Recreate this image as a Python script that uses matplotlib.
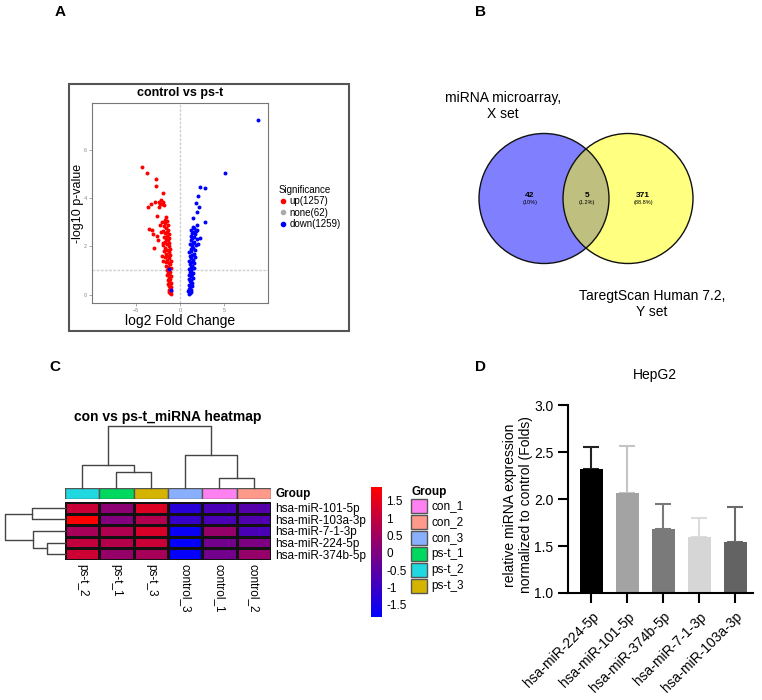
import numpy as np
import matplotlib
matplotlib.use("Agg")
import matplotlib.pyplot as plt
from matplotlib.patches import Circle, Rectangle
from matplotlib.colors import LinearSegmentedColormap, Normalize
from matplotlib.cm import ScalarMappable
from matplotlib.lines import Line2D

plt.rcParams['font.family'] = ['Liberation Sans', 'DejaVu Sans']

# ---------------- data ----------------
# A: volcano plot, log2 fold change vs -log10 p
up_fc = [-1.0, -1.1, -1.2, -1.05, -1.3, -1.15, -1.0, -1.25, -1.1, -1.35, -1.0,
         -1.2, -1.4, -1.1, -1.3, -1.0, -1.45, -1.2, -1.35, -1.1, -1.5,
         -1.25, -1.0, -1.4, -1.55, -1.15, -1.3, -1.6, -1.05, -1.45, -1.2,
         -1.7, -1.35, -1.1, -1.55, -1.25, -1.8, -1.45, -1.15, -1.65, -1.3,
         -1.9, -1.5, -1.2, -1.75, -1.4, -1.6, -1.25, -1.85, -1.5, -1.3,
         -1.7, -1.45, -1.9, -1.35, -1.6, -1.8, -1.4, -1.65, -1.5, -1.75, -1.55,
         -4.3, -3.7, -2.75, -2.68, -1.98, -2.84, -3.33, -3.62, -2.35, -2.15,
         -1.95, -2.25, -2.0, -2.35, -1.85, -2.58, -3.48, -3.22, -3.03, -2.65,
         -2.46, -2.95, -1.97, -2.08, -1.89, -2.2, -2.1, -2.3]
up_p = [0.02, 0.05, 0.1, 0.15, 0.2, 0.25, 0.3, 0.35, 0.4, 0.45, 0.5,
        0.55, 0.6, 0.65, 0.7, 0.75, 0.8, 0.85, 0.9, 0.95, 1.0,
        1.05, 1.1, 1.15, 1.2, 1.25, 1.3, 1.35, 1.4, 1.45, 1.5,
        1.55, 1.6, 1.65, 1.7, 1.75, 1.8, 1.85, 1.9, 1.95, 2.0,
        2.05, 2.1, 2.15, 2.2, 2.25, 2.3, 2.35, 2.4, 2.45, 2.5,
        2.55, 2.6, 2.65, 2.7, 2.75, 2.85, 2.9, 2.95, 3.05, 3.1, 3.2,
        5.28, 5.05, 4.78, 4.5, 4.2, 3.86, 3.76, 3.62, 3.86, 3.92,
        3.86, 3.75, 3.75, 3.63, 3.7, 3.24, 2.71, 2.7, 2.52, 2.44,
        2.27, 1.93, 2.16, 1.58, 1.38, 2.6, 3.0, 2.9]
down_fc = [1.0, 1.1, 1.2, 0.95, 1.3, 1.05, 1.15, 1.35, 1.0, 1.25, 1.4,
           1.1, 1.3, 1.0, 1.45, 1.2, 1.05, 1.35, 1.5, 1.15, 1.3,
           1.0, 1.55, 1.2, 1.4, 1.1, 1.6, 1.3, 1.05, 1.5, 1.25,
           1.7, 1.15, 1.4, 1.55, 1.05, 1.3, 1.75, 1.2, 1.5, 1.35,
           1.8, 1.1, 1.45, 1.6, 1.25, 1.9, 1.35, 1.55, 1.2, 1.7,
           1.4, 1.55, 1.3, 1.6, 1.45,
           8.83, 5.11, 2.27, 2.84, 2.08, 1.82, 2.2, 1.97, 1.52, 2.84,
           1.97, 1.82, 2.27, 2.0, 1.9, -1.21, -1.06]
down_p = [0.02, 0.05, 0.1, 0.15, 0.2, 0.25, 0.3, 0.35, 0.4, 0.45, 0.5,
          0.55, 0.6, 0.65, 0.7, 0.75, 0.8, 0.85, 0.9, 0.95, 1.0,
          1.05, 1.1, 1.15, 1.2, 1.25, 1.3, 1.35, 1.4, 1.45, 1.5,
          1.55, 1.6, 1.65, 1.7, 1.75, 1.8, 1.85, 1.9, 1.95, 2.0,
          2.05, 2.1, 2.15, 2.2, 2.25, 2.3, 2.35, 2.4, 2.45, 2.5,
          2.55, 2.6, 2.7, 2.75, 2.8,
          7.23, 5.03, 4.48, 4.41, 4.1, 3.81, 3.65, 3.44, 3.17, 3.03,
          2.89, 2.62, 2.34, 2.1, 2.7, 1.07, 0.21]
up_n, none_n, down_n = 1257, 62, 1259

# B: Venn counts
venn_x_only = 42
venn_both = 5
venn_y_only = 371

# C: heatmap (z-scores)
heat_rows = ['hsa-miR-101-5p', 'hsa-miR-103a-3p', 'hsa-miR-7-1-3p',
             'hsa-miR-224-5p', 'hsa-miR-374b-5p']
heat_cols = ['ps-t_2', 'ps-t_1', 'ps-t_3', 'control_3', 'control_1', 'control_2']
heat_vals = [[1.08, 0.21, 1.38, -1.25, -0.76, -0.61],
             [1.90, 0.06, 0.74, -1.03, -0.76, -0.67],
             [0.59, 0.74, 1.30, -1.70, 0.36, -0.76],
             [1.00, 0.80, 1.08, -1.78, -0.16, -0.01],
             [1.15, 0.36, 0.59, -1.78, -0.16, 0.36]]
col_group = ['ps-t_2', 'ps-t_1', 'ps-t_3', 'con_3', 'con_1', 'con_2']
group_names = ['con_1', 'con_2', 'con_3', 'ps-t_1', 'ps-t_2', 'ps-t_3']
group_colors = ['#ff80f0', '#ff9a8a', '#88b0ff', '#00d860', '#20d8e0', '#d4b400']
# merges: (child a, child b, height); children >= n are earlier merges
col_merges = [(1, 2, 16), (0, 6, 23), (4, 5, 10), (3, 8, 33), (7, 9, 62)]
row_merges = [(0, 1, 33), (3, 4, 18), (2, 6, 32), (5, 7, 60)]

# D: qPCR
qpcr_names = ['hsa-miR-224-5p', 'hsa-miR-101-5p', 'hsa-miR-374b-5p',
              'hsa-miR-7-1-3p', 'hsa-miR-103a-3p']
qpcr_mean = [2.32, 2.06, 1.68, 1.60, 1.54]
qpcr_sd = [0.23, 0.50, 0.27, 0.20, 0.37]
qpcr_colors = ['#000000', '#a3a3a3', '#7a7a7a', '#d6d6d6', '#636363']
qpcr_err_colors = ['#222222', '#c4c4c4', '#7a7a7a', '#dcdcdc', '#6a6a6a']

# ---------------- figure ----------------
W, H = 762, 700
fig = plt.figure(figsize=(W / 100, H / 100), dpi=100)


def px_axes(x0, y0, x1, y1):
    return fig.add_axes([x0 / W, 1 - y1 / H, (x1 - x0) / W, (y1 - y0) / H])


def ftext(x, y, s, **kw):
    return fig.text(x / W, 1 - y / H, s, **kw)


for lab, x, y in [('A', 60, 12), ('B', 480, 12), ('C', 55, 367), ('D', 480, 367)]:
    ftext(x, y, lab, fontsize=11, fontweight='bold', ha='center', va='center')

# ---- A: volcano ----
fig.add_artist(Rectangle((69 / W, 1 - 331 / H), 280 / W, 247 / H, transform=fig.transFigure,
                         fill=False, ec='#555555', lw=1.5))
ax = px_axes(92, 103, 268, 303)
ax.axvline(0, color='#d0d0d0', lw=1, ls=(0, (2, 1)), zorder=0)
ax.axhline(1, color='#d0d0d0', lw=1, ls=(0, (2, 1)), zorder=0)
ax.scatter(up_fc, up_p, s=8, color='#ff0000', lw=0, zorder=2)
ax.scatter(down_fc, down_p, s=8, color='#0000ff', lw=0, zorder=3)
ax.set_xlim(-10, 10)
ax.set_ylim(-0.35, 7.95)
ax.set_xticks([-5, 0, 5])
ax.set_yticks([0, 2, 4, 6])
ax.tick_params(labelsize=4, colors='#888888', length=2, width=0.5, pad=1.5)
for sp in ax.spines.values():
    sp.set_color('#777777')
    sp.set_linewidth(0.8)
ftext(180, 93, 'control vs ps-t', fontsize=9, fontweight='bold', ha='center', va='center')
ftext(180, 321, 'log2 Fold Change', fontsize=10, ha='center', va='center')
ftext(78, 203, '-log10 p-value', fontsize=9, rotation=90, ha='center', va='center')

handles = [Line2D([], [], marker='o', ls='', color=c, markersize=3)
           for c in ['#ff0000', '#aaaaaa', '#0000ff']]
labels = ['up(%d)' % up_n, 'none(%d)' % none_n, 'down(%d)' % down_n]
fig.legend(handles, labels, title='Significance', loc='upper left',
           bbox_to_anchor=(274 / W, 1 - 180 / H), fontsize=7, title_fontsize=7,
           frameon=False, handlelength=0.8, handletextpad=0.3, labelspacing=0.15,
           borderpad=0, alignment='left')

# ---- B: Venn ----
axv = px_axes(440, 60, 762, 340)
axv.set_xlim(440, 762)
axv.set_ylim(340, 60)
axv.axis('off')
cx, cy, r, gap = 586, 198.5, 65, 84
left = Circle((cx - gap / 2, cy), r, fc='#8080ff', ec='none')
right = Circle((cx + gap / 2, cy), r, fc='#ffff80', ec='none')
axv.add_patch(left)
axv.add_patch(right)
inter = Circle((cx - gap / 2, cy), r, fc='#bfbf80', ec='none')
axv.add_patch(inter)
inter.set_clip_path(right)
for c0 in (cx - gap / 2, cx + gap / 2):
    axv.add_patch(Circle((c0, cy), r, fill=False, ec='#111111', lw=1))
total = venn_x_only + venn_both + venn_y_only
for xx, n in [(530, venn_x_only), (587, venn_both), (643, venn_y_only)]:
    axv.text(xx, cy - 3, str(n), fontsize=6, fontweight='bold', ha='center', va='center')
    axv.text(xx, cy + 4, '(%s%%)' % ('%.1f' % (100 * n / total)).rstrip('0').rstrip('.'),
             fontsize=4, ha='center', va='center')
ftext(503, 106, 'miRNA microarray,\nX set', fontsize=10, ha='center', va='center',
      multialignment='center', linespacing=1.15)
ftext(652, 304, 'TaregtScan Human 7.2,\nY set', fontsize=10, ha='center', va='center',
      multialignment='center', linespacing=1.15)

# ---- C: heatmap ----
cmap = LinearSegmentedColormap.from_list('bpr', ['#0000ff', '#800080', '#ff0000'])
vmin, vmax = -1.85, 1.9
axh = px_axes(65, 502, 271, 560)
axh.pcolormesh(np.array(heat_vals), cmap=cmap, vmin=vmin, vmax=vmax,
               edgecolors='#111111', linewidth=1)
axh.set_xlim(0, len(heat_cols))
axh.set_ylim(len(heat_rows), 0)
axh.set_xticks(np.arange(len(heat_cols)) + 0.5)
axh.set_xticklabels(heat_cols, rotation=270, fontsize=8.5)
axh.set_yticks(np.arange(len(heat_rows)) + 0.5)
axh.set_yticklabels(heat_rows, fontsize=8.5)
axh.yaxis.tick_right()
axh.tick_params(length=0, pad=3)
for sp in axh.spines.values():
    sp.set_visible(False)

axg = px_axes(65, 488, 271, 499)
gcol = [group_colors[group_names.index(g)] for g in col_group]
axg.bar(np.arange(len(col_group)) + 0.5, 1, width=1, color=gcol, edgecolor='#555555', lw=1)
axg.set_xlim(0, len(col_group))
axg.set_ylim(0, 1)
axg.axis('off')
axg.text(1.02, 0.45, 'Group', transform=axg.transAxes, fontsize=8.5, fontweight='bold',
         va='center', ha='left')


def draw_dendro(a, merges, n, side):
    pos = {i: i + 0.5 for i in range(n)}
    hgt = {i: 0 for i in range(n)}
    for k, (p, q, h) in enumerate(merges):
        xs = [pos[p], pos[p], pos[q], pos[q]]
        ys = [hgt[p], h, h, hgt[q]]
        if side == 'top':
            a.plot(xs, ys, color='#444444', lw=1, clip_on=False)
        else:
            a.plot(ys, xs, color='#444444', lw=1, clip_on=False)
        pos[n + k] = (pos[p] + pos[q]) / 2
        hgt[n + k] = h
    a.axis('off')


axcd = px_axes(65, 426, 271, 488)
draw_dendro(axcd, col_merges, len(heat_cols), 'top')
axcd.set_xlim(0, len(heat_cols))
axcd.set_ylim(0, max(m[2] for m in col_merges))

axrd = px_axes(5, 502, 65, 560)
draw_dendro(axrd, row_merges, len(heat_rows), 'left')
axrd.set_xlim(max(m[2] for m in row_merges), 0)
axrd.set_ylim(len(heat_rows), 0)

ftext(168, 417, 'con vs ps-t_miRNA heatmap', fontsize=10, fontweight='bold',
      ha='center', va='center')

cax = px_axes(371, 487, 382, 617)
cb = fig.colorbar(ScalarMappable(norm=Normalize(vmin, vmax), cmap=cmap), cax=cax,
                  ticks=[-1.5, -1, -0.5, 0, 0.5, 1, 1.5])
cb.ax.set_yticklabels(['-1.5', '-1', '-0.5', '0', '0.5', '1', '1.5'])
cb.ax.tick_params(length=0, labelsize=8.5, pad=3)
cb.outline.set_visible(False)

axl = px_axes(405, 484, 480, 600)
axl.set_xlim(405, 480)
axl.set_ylim(600, 484)
axl.axis('off')
axl.text(411, 492, 'Group', fontsize=8.5, fontweight='bold', va='center', ha='left')
for i, (g, c) in enumerate(zip(group_names, group_colors)):
    y0 = 499 + 16 * i
    axl.add_patch(Rectangle((411, y0), 16, 14, fc=c, ec='#555555', lw=1))
    axl.text(431, y0 + 7, g, fontsize=8.5, va='center', ha='left')

# ---- D: bar chart ----
axd = px_axes(568, 405, 753, 593)
xpos = np.arange(len(qpcr_names))
axd.bar(xpos, qpcr_mean, width=0.64, color=qpcr_colors, zorder=2)
for x, m, s, c in zip(xpos, qpcr_mean, qpcr_sd, qpcr_err_colors):
    axd.errorbar(x, m, yerr=[[0], [s]], color=c, lw=1.5, capsize=6, capthick=1.5, zorder=1)
axd.set_xlim(-0.65, 4.5)
axd.set_ylim(1.0, 3.0)
axd.set_yticks([1.0, 1.5, 2.0, 2.5, 3.0])
axd.set_yticklabels(['1.0', '1.5', '2.0', '2.5', '3.0'])
axd.set_xticks(xpos)
axd.set_xticklabels(qpcr_names, rotation=45, ha='right', rotation_mode='anchor')
axd.tick_params(labelsize=10, length=7, width=1.5, direction='out')
axd.tick_params(axis='x', pad=5)
for k in ['top', 'right']:
    axd.spines[k].set_visible(False)
for k in ['left', 'bottom']:
    axd.spines[k].set_linewidth(1.5)
ftext(655, 375, 'HepG2', fontsize=10, ha='center', va='center')
ftext(518, 505, 'relative miRNA expression\nnormalized to control (Folds)', fontsize=10,
      rotation=90, ha='center', va='center', multialignment='center', linespacing=1.1)

fig.savefig('out.png', dpi=100)
